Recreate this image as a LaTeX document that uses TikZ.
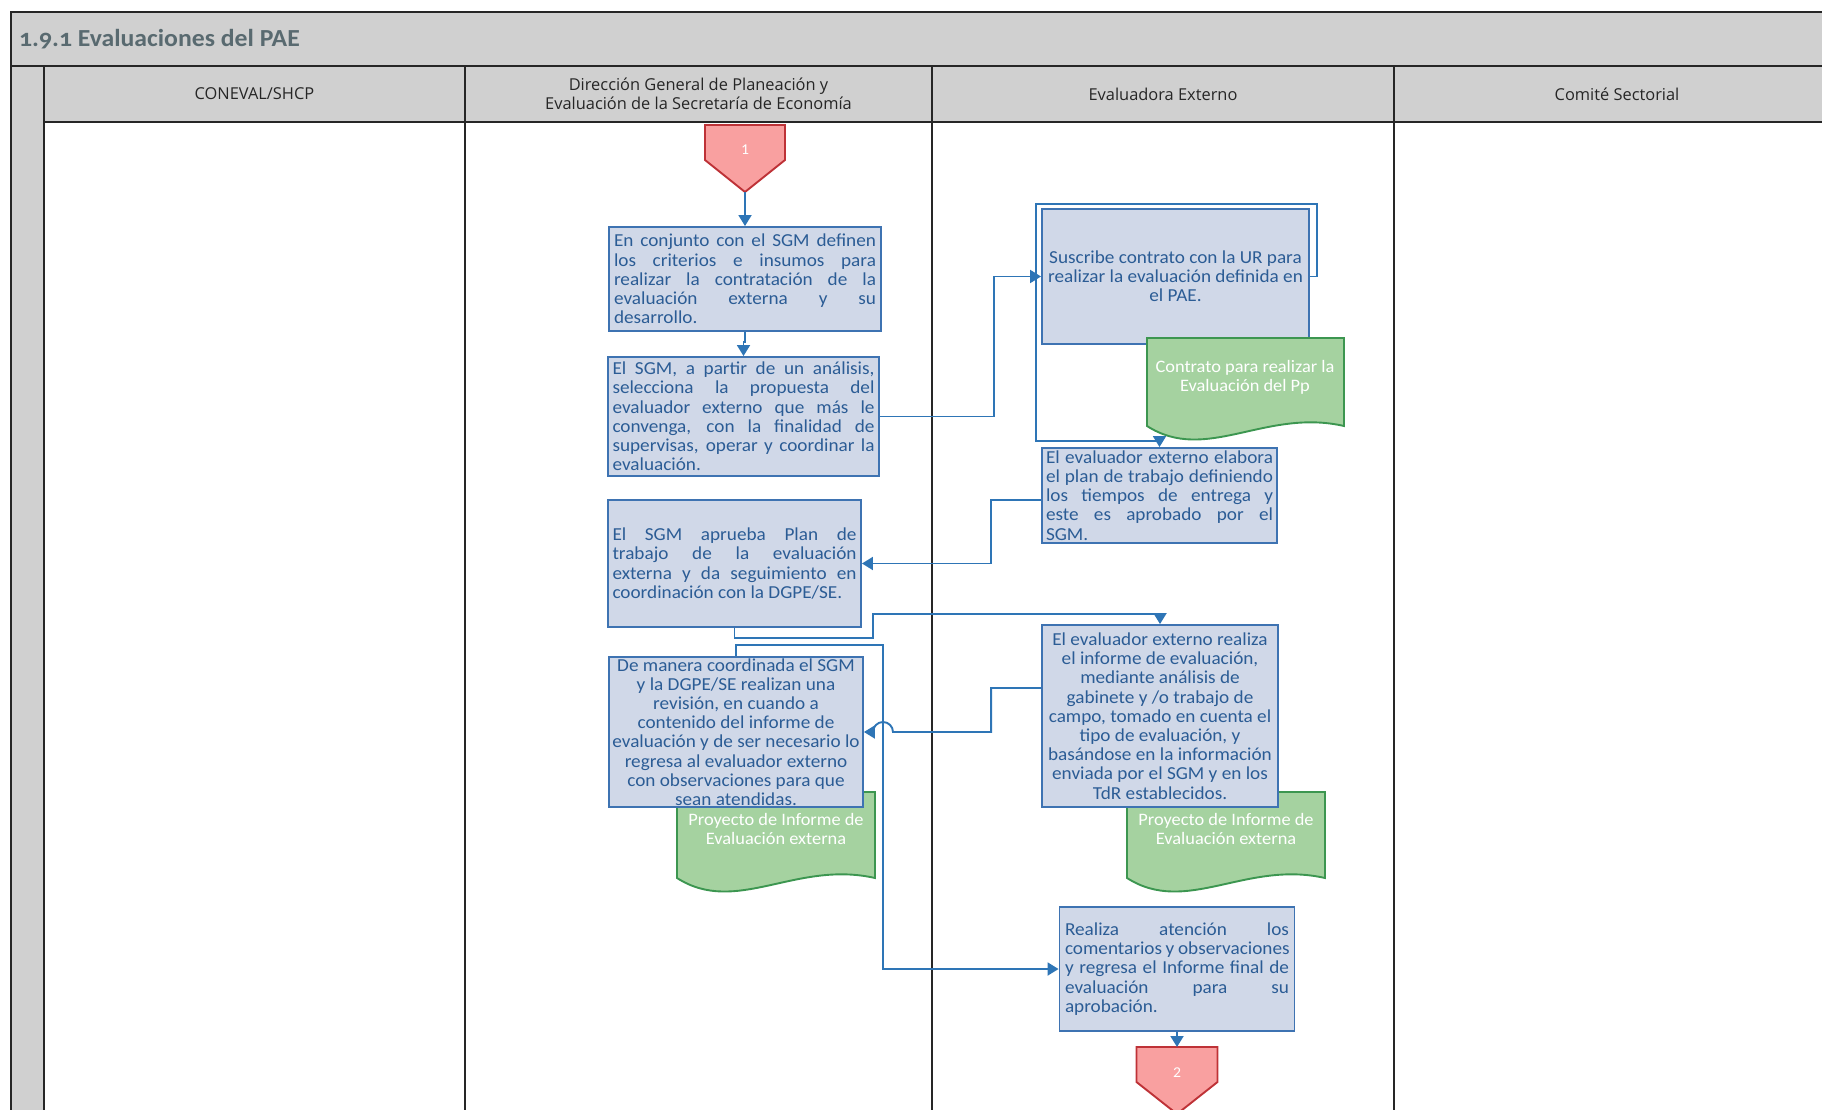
\documentclass[tikz,border=0pt]{standalone}
\usepackage{fontspec}
\setmainfont[FakeStretch=1.05]{Carlito}
\newfontfamily\hdrfont{Open Sans}
\usetikzlibrary{arrows.meta,calc}

\definecolor{gridgray}{RGB}{208,208,208}
\definecolor{gridline}{RGB}{38,38,38}
\definecolor{titlecol}{RGB}{89,106,112}
\definecolor{boxfill}{RGB}{208,216,232}
\definecolor{boxdraw}{RGB}{62,115,178}
\definecolor{boxtext}{RGB}{43,92,149}
\definecolor{conncol}{RGB}{46,117,182}
\definecolor{docfill}{RGB}{165,210,160}
\definecolor{docdraw}{RGB}{60,150,80}
\definecolor{pentfill}{RGB}{249,160,160}
\definecolor{pentdraw}{RGB}{190,50,55}

\newcommand\JL[1]{\hbox to\hsize{\spaceskip=0.2em plus 1fil\relax #1}}
\newcommand\LL[1]{\hbox to\hsize{#1\hfil}}
\newcommand\CL[1]{\hbox to\hsize{\hfil#1\hfil}}
\newcommand\txtblock[2]{\vbox{\hsize=#1\relax #2}}

\begin{document}
\begin{tikzpicture}[x=1pt,y=-1pt,
  conn/.style={draw=conncol, line width=1.9pt, -{Triangle[length=11pt,width=13pt]}},
  proc/.style={draw=boxdraw, line width=1.9pt, fill=boxfill, text=boxtext,
    font=\fontsize{18.3}{19.2}\selectfont, inner xsep=0pt, inner ysep=0pt, rectangle},
  doctext/.style={text=white, font=\fontsize{17.5}{19}\selectfont, align=center, inner sep=0pt},
  docshape/.style={draw=docdraw, line width=1.9pt, fill=docfill},
  pentshape/.style={draw=pentdraw, line width=1.9pt, fill=pentfill},
  penttext/.style={text=white, font=\fontsize{15}{15}\selectfont, inner sep=0pt},
  gridln/.style={draw=gridline, line width=2.2pt},
  hdr/.style={font=\hdrfont\fontsize{16.4}{19}\selectfont, text=gridline, align=center, inner sep=0pt},
]
\useasboundingbox (0,0) rectangle (1822,1110);
\clip (0,0) rectangle (1822,1110);

% swimlane frame
\fill[gridgray] (11,12) rectangle (1840,122);
\fill[gridgray] (11,122) rectangle (44,1130);
\draw[gridln] (1840,12) -- (11,12) -- (11,1130);
\draw[gridln] (11,66) -- (1840,66);
\draw[gridln] (44,122) -- (1840,122);
\draw[gridln] (44,66) -- (44,1130);
\foreach \x in {465,932,1394} \draw[gridln] (\x,66) -- (\x,1130);

\node[anchor=west, inner sep=0pt, text=titlecol, font=\fontsize{24.5}{26}\selectfont\bfseries\addfontfeatures{Numbers=OldStyle}] (title) at (19,39) {1.9.1 Evaluaciones del PAE};

\node[hdr] (h1) at (254.5,94) {CONEVAL/SHCP};
\node[hdr] (h2) at (698.5,94) {Dirección General de Planeación y\\Evaluación de la Secretaría de Economía};
\node[hdr] (h3) at (1163,94) {Evaluadora Externo};
\node[hdr] (h4) at (1617,94) {Comité Sectorial};

% start connector
\draw[pentshape] (705,125) -- (785,125) -- (785,160) -- (745,192) -- (705,160) -- cycle;
\node[penttext] (p1) at (745,150) {1};
\coordinate (p1tip) at (745,192);

% documents behind boxes
\draw[docshape] (677,792) -- (875,792) -- (875,878) .. controls (795.8,860) and (736.4,916) .. (677,878) -- cycle;
\node[doctext] (d1) at (776,829) {Proyecto de Informe de\\Evaluación externa};
\draw[docshape] (1127,792) -- (1325,792) -- (1325,878) .. controls (1245.8,860) and (1186.4,916) .. (1127,878) -- cycle;
\node[doctext] (d2) at (1226,829) {Proyecto de Informe de\\Evaluación externa};

% process boxes
\node[proc, minimum width=272pt, minimum height=104pt] (b1) at (745,279) {\txtblock{262pt}{%
\JL{En conjunto con el SGM definen}\JL{los criterios e insumos para}\JL{realizar la contratación de la}\JL{evaluación externa y su}\LL{desarrollo.}}};

\node[proc, minimum width=271pt, minimum height=119pt] (b2) at (743.5,416.5) {\txtblock{262pt}{%
\JL{El SGM, a partir de un análisis,}\JL{selecciona la propuesta del}\JL{evaluador externo que más le}\JL{convenga, con la finalidad de}\JL{supervisas, operar y coordinar la}\LL{evaluación.}}};

\node[proc, minimum width=253pt, minimum height=127pt] (b3) at (734.5,563.5) {\txtblock{244pt}{%
\JL{El SGM aprueba Plan de}\JL{trabajo de la evaluación}\JL{externa y da seguimiento en}\LL{coordinación con la DGPE/SE.}}};

\node[proc, minimum width=254pt, minimum height=150pt] (b4) at (736,732) {\txtblock{248pt}{%
\CL{De manera coordinada el SGM}\CL{y la DGPE/SE realizan una}\CL{revisión, en cuando a}\CL{contenido del informe de}\CL{evaluación y de ser necesario lo}\CL{regresa al evaluador externo}\CL{con observaciones para que}\CL{sean atendidas.}}};

\node[proc, minimum width=267pt, minimum height=135pt] (c1) at (1175.5,276.5) {\txtblock{257pt}{%
\CL{Suscribe contrato con la UR para}\CL{realizar la evaluación definida en}\CL{el PAE.}}};

\draw[docshape] (1147,338) -- (1344,338) -- (1344,426) .. controls (1265.2,408) and (1206.1,464) .. (1147,426) -- cycle;
\node[doctext] (dc) at (1245,377) {Contrato para realizar la\\Evaluación del Pp};

\node[proc, minimum width=235pt, minimum height=95pt] (c2) at (1159.5,495.5) {\txtblock{227pt}{%
\JL{El evaluador externo elabora}\JL{el plan de trabajo definiendo}\JL{los tiempos de entrega y}\JL{este es aprobado por el}\LL{SGM.}}};

\node[proc, minimum width=236pt, minimum height=182pt] (c3) at (1160,716) {\txtblock{232pt}{%
\CL{El evaluador externo realiza}\CL{el informe de evaluación,}\CL{mediante análisis de}\CL{gabinete y /o trabajo de}\CL{campo, tomado en cuenta el}\CL{tipo de evaluación, y}\CL{basándose en la información}\CL{enviada por el SGM y en los}\CL{TdR establecidos.}}};

\node[proc, minimum width=235pt, minimum height=124pt] (c4) at (1177,969) {\txtblock{224pt}{%
\JL{Realiza atención los}\JL{comentarios y observaciones}\JL{y regresa el Informe final de}\JL{evaluación para su}\LL{aprobación.}}};

% end connector
\draw[pentshape] (1136.5,1047) -- (1217.5,1047) -- (1217.5,1082) -- (1177,1114) -- (1136.5,1082) -- cycle;
\node[penttext] (p2) at (1177,1073) {2};
\coordinate (p2top) at (1177,1047);

% connectors
\draw[conn] (p1tip) -- (b1.north);
\draw[conn] (b1.south) -- ++(0,10) -| (b2.north);
\draw[conn] (b2.east) -- ++(114,0) |- (c1.west);
\draw[conn] (c1.east) -- ++(7,0) |- (1036,204) |- ($(c2.north)+(0,-6)$) -- (c2.north);
\draw[conn] ([yshift=-4.5pt]c2.west) -- ++(-50,0) |- (b3.east);
\draw[conn] (b3.south) -- ++(0,10) -- ++(138.5,0) |- ($(c3.north)+(0,-10)$) -- (c3.north);
\draw[conn] ([yshift=28pt]c3.west) -- ++(-50,0) |- (893,732)
  .. controls (893,726.5) and (888.5,722) .. (883,722)
  .. controls (877.5,722) and (873,726.5) .. (873,732) -- (b4.east);
\draw[conn] (b4.north) -- ++(0,-11) -- ++(147,0) |- (c4.west);
\draw[conn] (c4.south) -- (p2top);
\end{tikzpicture}
\end{document}
